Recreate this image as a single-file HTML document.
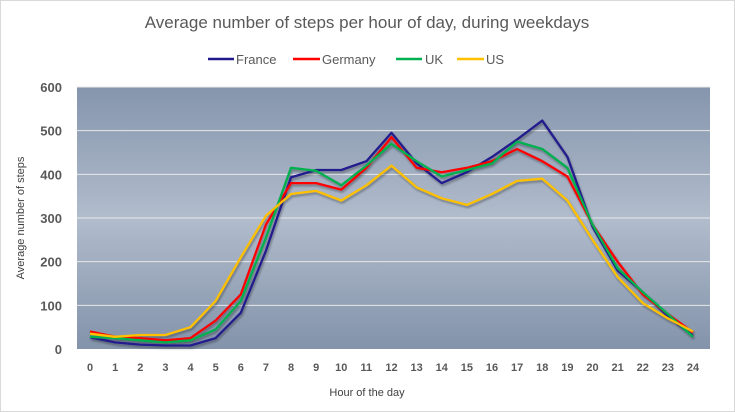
<!DOCTYPE html>
<html><head><meta charset="utf-8"><style>
body{margin:0;background:#fff;}
svg{display:block;font-family:"Liberation Sans",sans-serif;}
</style></head><body>
<svg id="c" width="735" height="412" viewBox="0 0 735 412" xmlns="http://www.w3.org/2000/svg">
<defs>
<linearGradient id="bg" x1="0" y1="0" x2="0" y2="1">
<stop offset="0" stop-color="#8595ad"/>
<stop offset="0.5" stop-color="#b1bccc"/>
<stop offset="1" stop-color="#8393aa"/>
</linearGradient>
<filter id="sh" x="-5%" y="-5%" width="110%" height="120%"><feDropShadow dx="1" dy="2" stdDeviation="1" flood-color="#000" flood-opacity="0.35"/></filter>
</defs>
<rect x="0.5" y="0.5" width="734" height="411" fill="#fff" stroke="#d9d9d9"/>
<text x="367" y="28" text-anchor="middle" font-size="17" fill="#595959">Average number of steps per hour of day, during weekdays</text>
<g font-size="13" fill="#595959">
<line x1="208" y1="59" x2="234" y2="59" stroke="#221a8c" stroke-width="2.5"/><text x="236" y="64">France</text>
<line x1="293" y1="59" x2="320" y2="59" stroke="#ff0000" stroke-width="2.5"/><text x="322" y="64">Germany</text>
<line x1="396" y1="59" x2="422" y2="59" stroke="#00b050" stroke-width="2.5"/><text x="425" y="64">UK</text>
<line x1="457" y1="59" x2="484" y2="59" stroke="#ffc000" stroke-width="2.5"/><text x="486" y="64">US</text>
</g>
<rect x="77" y="87" width="633" height="262" fill="url(#bg)"/>
<g id="grid" stroke="#e8e8e8" stroke-width="1"></g>
<g id="yl" font-size="13" font-weight="bold" fill="#595959" text-anchor="end"></g>
<g id="xl" font-size="11" font-weight="bold" fill="#595959" text-anchor="middle"></g>
<g id="lines" fill="none" stroke-width="2.3" stroke-linejoin="round" filter="url(#sh)"></g>
<text x="367" y="396" text-anchor="middle" font-size="11" fill="#404040">Hour of the day</text>
<text transform="translate(24,218) rotate(-90)" text-anchor="middle" font-size="11" fill="#404040">Average number of steps</text>
</svg>
<script>
var NS="http://www.w3.org/2000/svg";
function el(p,t,a,txt){var e=document.createElementNS(NS,t);for(var k in a)e.setAttribute(k,a[k]);if(txt!=null)e.textContent=txt;document.getElementById(p).appendChild(e);}
function Y(v){return 349-v*262/600;}
function X(i){return 90+i*25.125;}
for(var v=0;v<=600;v+=100){if(v>0)el("grid","line",{x1:77,x2:710,y1:Y(v),y2:Y(v)});el("yl","text",{x:62,y:Y(v)+5},v);}
for(var i=0;i<=24;i++)el("xl","text",{x:X(i),y:371},i);
var d={
"#221a8c":[27,15,10,8,8,25,83,225,393,410,410,430,495,425,380,405,440,480,523,440,280,180,130,75,30],
"#ff0000":[40,28,25,20,25,65,125,285,380,380,365,415,485,415,405,415,430,458,430,395,285,200,125,80,38],
"#00b050":[28,25,20,15,20,45,110,255,415,408,375,420,470,430,395,410,425,475,458,415,285,185,130,80,28],
"#ffc000":[35,28,32,32,50,110,210,305,355,362,340,375,420,370,345,330,355,385,390,340,250,165,105,70,40]};
for(var c in d){el("lines","polyline",{stroke:c,points:d[c].map(function(v,i){return X(i).toFixed(1)+","+Y(v).toFixed(1);}).join(" ")});}
</script>
</body></html>
